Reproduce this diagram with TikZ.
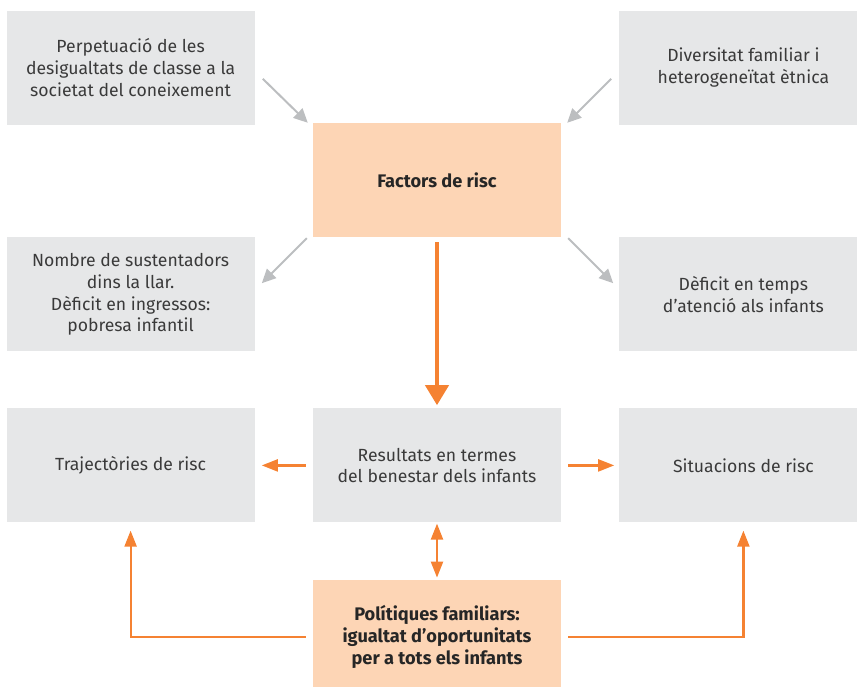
\documentclass[tikz,border=0pt]{standalone}
\usepackage{fontspec}
\setmainfont{Fira Sans}
\usetikzlibrary{positioning,calc,arrows.meta}
\definecolor{boxgray}{HTML}{E6E7E8}
\definecolor{boxorange}{HTML}{FDD5B5}
\definecolor{arroworange}{HTML}{F58232}
\definecolor{arrowgray}{HTML}{BCBEC0}
\definecolor{textgray}{HTML}{3A3A3A}

\begin{document}
\begin{tikzpicture}[x=1pt, y=-1pt,
    block/.style={rectangle, fill=boxgray, text=textgray, minimum width=248pt, minimum height=114pt, inner sep=0pt, align=center, font=\fontsize{17.6}{21.8}\selectfont},
    keyblock/.style={block, fill=boxorange, text=black!85, font=\fontsize{18.2}{22}\selectfont\bfseries},
    arrow/.style={-{Triangle[length=16pt,width=12pt]}, line width=2.2pt, arroworange},
    grayarrow/.style={-{Triangle[length=14pt,width=13pt]}, line width=2pt, arrowgray}]

    \useasboundingbox (0,0) rectangle (857,686);
    \clip (0,0) rectangle (857,686);

    % Risk factors
    \node[keyblock] (factors) at (437,180) {Factors de risc};

    % Causes and effects round the risk factors
    \node[block, above left=-2pt and 58pt of factors] (perpetuacio) {Perpetuació de les\\desigualtats de classe a la\\societat del coneixement};
    \node[block, above right=-2pt and 58pt of factors] (diversitat) {Diversitat familiar i\\heterogeneïtat ètnica};
    \node[block, below left=0pt and 58pt of factors] (sustentadors) {Nombre de sustentadors\\dins la llar.\\Dèficit en ingressos:\\pobresa infantil};
    \node[block, below right=0pt and 58pt of factors] (temps) {Dèficit en temps\\d’atenció als infants};

    % Outcomes
    \node[block, below=171pt of factors] (resultats) {Resultats en termes\\del benestar dels infants};
    \node[block, left=58pt of resultats] (trajectories) {Trajectòries de risc};
    \node[block, right=58pt of resultats] (situacions) {Situacions de risc};

    % Policies
    \node[keyblock, below=57pt of resultats] (politiques) {Polítiques familiars:\\igualtat d’oportunitats\\per a tots els infants};

    % Grey arrows
    \draw[grayarrow] ($(factors.north west)+(-50,-44)$) -- ($(factors.north west)+(-5,0)$);
    \draw[grayarrow] ($(factors.north east)+(50,-44)$) -- ($(factors.north east)+(6,0)$);
    \draw[grayarrow] ($(factors.south west)+(-6,1)$) -- ($(factors.south west)+(-51,46)$);
    \draw[grayarrow] ($(factors.south east)+(7,1)$) -- ($(factors.south east)+(52,46)$);

    % Orange arrows
    \draw[arrow, line width=4pt, -{Triangle[length=20pt,width=23pt]}, shorten <=5pt, shorten >=3pt] (factors) -- (resultats);
    \draw[arrow, shorten <=7pt, shorten >=7pt] (resultats) -- (trajectories);
    \draw[arrow, shorten <=7pt, shorten >=5pt] (resultats) -- (situacions);
    \draw[arrow, {Triangle[length=16pt,width=12pt]}-{Triangle[length=16pt,width=12pt]}, shorten <=1pt, shorten >=2pt] (resultats) -- (politiques);
    \draw[arrow, shorten <=7pt, shorten >=8pt] (politiques.west) -| (trajectories.south);
    \draw[arrow, shorten <=7pt, shorten >=8pt] (politiques.east) -| (situacions.south);

\end{tikzpicture}
\end{document}
